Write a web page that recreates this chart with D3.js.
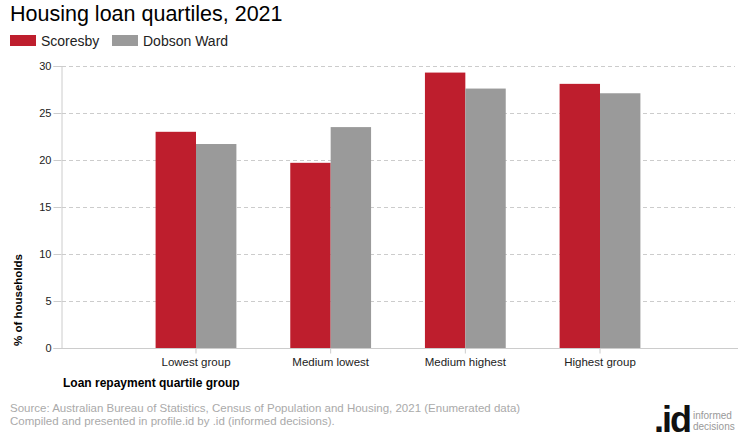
<!DOCTYPE html>
<html><head><meta charset="utf-8">
<script src="https://cdn.jsdelivr.net/npm/d3@7"></script>
<style>body{margin:0;background:#fff}svg{display:block;font-family:Arial,"Liberation Sans",sans-serif}</style>
</head><body>
<svg id="c" width="740" height="440"></svg>
<script>
const categories = ["Lowest group","Medium lowest","Medium highest","Highest group"];
const seriesNames = ["Scoresby","Dobson Ward"];
const scoresby = [23.0, 19.7, 29.3, 28.1];
const dobsonWard = [21.7, 23.5, 27.6, 27.1];
const yTicks = [0,5,10,15,20,25,30];
const colors = ["#be1e2d","#9a9a9a"];

const svg = d3.select("#c");
const mLeft = 62, mRight = 738, mTop = 66, mBottom = 348;
const FONT = "Arial, 'Liberation Sans', sans-serif";

svg.append("text").attr("x",10).attr("y",21).attr("font-size",21.5).attr("fill","#000").text("Housing loan quartiles, 2021");

// legend
const legX = [10,112];
seriesNames.forEach((n,i)=>{
  svg.append("rect").attr("x",legX[i]).attr("y",35).attr("width",26).attr("height",11).attr("fill",colors[i]);
  svg.append("text").attr("x",legX[i]+31).attr("y",45.5).attr("font-size",14).attr("fill","#222").text(n);
});

const y = d3.scaleLinear().domain([0,30]).range([mBottom,mTop]);
const x0 = d3.scaleBand().domain(categories).range([mLeft,734]).paddingInner(0.4).paddingOuter(0.695);
const x1 = d3.scaleBand().domain(seriesNames).range([0,x0.bandwidth()]);

// grid
svg.append("g").selectAll("line").data(yTicks.filter(t=>t>0)).join("line")
  .attr("x1",mLeft).attr("x2",735).attr("y1",d=>Math.round(y(d))+0.5).attr("y2",d=>Math.round(y(d))+0.5)
  .attr("stroke","#cccccc").attr("stroke-dasharray","4,3");

// bars
const data = [scoresby, dobsonWard];
const g = svg.append("g");
categories.forEach((c,ci)=>{
  seriesNames.forEach((s,si)=>{
    g.append("rect").attr("x",x0(c)+x1(s)).attr("width",x1.bandwidth())
      .attr("y",y(data[si][ci])).attr("height",y(0)-y(data[si][ci])).attr("fill",colors[si]);
  });
});

// y axis
const ya = d3.axisLeft(y).tickValues(yTicks).tickSize(8).tickPadding(2);
const yg = svg.append("g").attr("transform",`translate(${mLeft-0.5},0)`).call(ya);
yg.select(".domain").attr("stroke","#cccccc");
yg.selectAll(".tick line").attr("stroke","#cccccc");
yg.selectAll("text").attr("font-size",11).attr("fill","#222").attr("font-family",FONT);

// x axis
const xa = d3.axisBottom(x0).tickSize(5).tickPadding(4).tickSizeOuter(0);
const xg = svg.append("g").attr("transform",`translate(0,${mBottom+0.5})`).call(xa);
xg.select(".domain").remove();
xg.append("line").attr("x1",mLeft).attr("x2",mRight).attr("stroke","#cccccc");
xg.selectAll(".tick line").attr("stroke","#cccccc");
xg.selectAll("text").attr("font-size",11.5).attr("fill","#222").attr("font-family",FONT);

// axis titles
svg.append("text").attr("transform","translate(22,300) rotate(-90)").attr("text-anchor","middle")
  .attr("font-size",11.5).attr("font-weight","bold").attr("fill","#000").text("% of households");
svg.append("text").attr("x",63).attr("y",387).attr("font-size",12).attr("font-weight","bold").attr("fill","#000").text("Loan repayment quartile group");

// source
svg.append("text").attr("x",10).attr("y",412).attr("font-size",11.5).attr("fill","#aaaaaa").text("Source: Australian Bureau of Statistics, Census of Population and Housing, 2021 (Enumerated data)");
svg.append("text").attr("x",10).attr("y",425).attr("font-size",11.5).attr("fill","#aaaaaa").text("Compiled and presented in profile.id by .id (informed decisions).");

// logo
svg.append("text").attr("x",654).attr("y",432).attr("font-size",36).attr("font-weight","bold").attr("fill","#111").attr("letter-spacing",-2).text(".id");
svg.append("text").attr("x",693).attr("y",419).attr("font-size",10).attr("fill","#999").text("informed");
svg.append("text").attr("x",693).attr("y",430).attr("font-size",10).attr("fill","#999").text("decisions");
</script>
</body></html>
